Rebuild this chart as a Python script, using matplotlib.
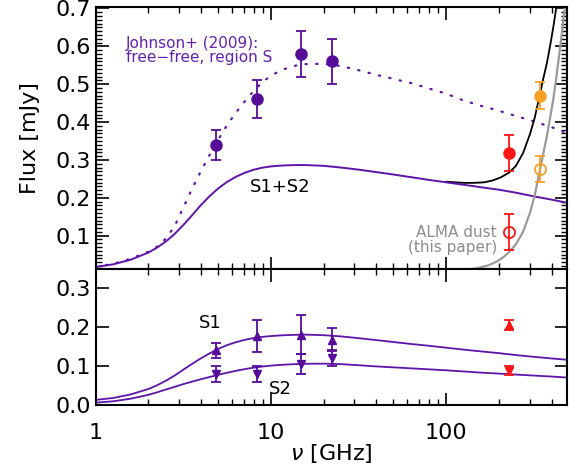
import numpy as np
import matplotlib.pyplot as plt
from matplotlib.ticker import MultipleLocator, FixedLocator, NullFormatter

# VLA points (Johnson+ 2009), region S
nu_vla = [4.85, 8.3, 14.8, 22.4]
flux_s = [0.34, 0.46, 0.58, 0.56]
err_s = [0.04, 0.05, 0.06, 0.06]
flux_s1 = [0.14, 0.177, 0.18, 0.168]
err_s1 = [0.02, 0.04, 0.05, 0.03]
flux_s2 = [0.08, 0.08, 0.105, 0.12]
err_s2 = [0.02, 0.02, 0.025, 0.02]

# ALMA points
nu_b6 = 228
nu_b7 = 342
tot_b6, tot_b6_err = 0.318, 0.048
tot_b7, tot_b7_err = 0.47, 0.035
dust_b6, dust_b6_err = 0.109, 0.047
dust_b7, dust_b7_err = 0.276, 0.034
s1_b6, s1_b6_err = 0.205, 0.013
s2_b6, s2_b6_err = 0.088, 0.011

# model curves
nu_mod = [1, 1.26, 1.58, 2.0, 2.24, 2.51, 2.82, 3.16, 3.55, 3.98, 4.47, 5.01,
          5.62, 6.31, 7.08, 7.94, 8.91, 10, 11.2, 12.6, 14.1, 15.8, 20, 25.1,
          31.6, 39.8, 50.1, 63.1, 79.4, 100, 126, 158, 200, 251, 316, 398, 490]
ff_johnson = [0.0175, 0.026, 0.039, 0.058, 0.071, 0.092, 0.125, 0.174, 0.224,
              0.270, 0.313, 0.354, 0.392, 0.425, 0.454, 0.481, 0.505, 0.522,
              0.535, 0.544, 0.550, 0.553, 0.554, 0.548, 0.537, 0.525, 0.514,
              0.503, 0.489, 0.475, 0.457, 0.443, 0.430, 0.416, 0.402, 0.387,
              0.371]
ff_s1s2 = [0.0175, 0.0245, 0.0365, 0.0555, 0.0685, 0.0845, 0.1045, 0.128,
           0.154, 0.1805, 0.2045, 0.225, 0.242, 0.2555, 0.266, 0.274, 0.2795,
           0.283, 0.2848, 0.286, 0.2865, 0.2865, 0.2845, 0.280, 0.2745, 0.268,
           0.2615, 0.2545, 0.2475, 0.241, 0.2345, 0.228, 0.2215, 0.2135,
           0.204, 0.1955, 0.187]
mod_s1 = [0.013, 0.018, 0.027, 0.041, 0.0505, 0.062, 0.0755, 0.0905, 0.1055,
          0.1195, 0.1325, 0.144, 0.1535, 0.161, 0.167, 0.1715, 0.1747, 0.1768,
          0.1783, 0.1794, 0.1801, 0.1805, 0.179, 0.176, 0.1715, 0.1665,
          0.1615, 0.1565, 0.152, 0.147, 0.142, 0.1375, 0.133, 0.128, 0.1235,
          0.1195, 0.116]
mod_s2 = [0.006, 0.0095, 0.016, 0.026, 0.0325, 0.0395, 0.0465, 0.0535, 0.060,
          0.066, 0.0718, 0.0774, 0.0827, 0.0876, 0.0919, 0.0956, 0.0986,
          0.1009, 0.1027, 0.104, 0.105, 0.1057, 0.106, 0.1048, 0.102, 0.099,
          0.0965, 0.094, 0.0915, 0.089, 0.086, 0.083, 0.0805, 0.078, 0.0755,
          0.073, 0.0704]

nu_dust = [130, 150, 175, 195, 212, 228, 250, 275, 301, 320, 342, 360, 375,
           392, 409, 425, 440, 458, 476, 490]
dust = [0.010, 0.014, 0.022, 0.032, 0.043, 0.056, 0.077, 0.110, 0.160, 0.205,
        0.27, 0.32, 0.36, 0.41, 0.46, 0.515, 0.57, 0.635, 0.70, 0.75]
nu_tot = [100, 126, 145, 165, 185, 205, 228, 250, 275, 301, 320, 342, 360,
          375, 392, 409, 425, 440]
tot = [0.2425, 0.2395, 0.2395, 0.241, 0.246, 0.254, 0.266, 0.284, 0.318,
       0.368, 0.41, 0.47, 0.518, 0.553, 0.60, 0.65, 0.70, 0.75]

purple = '#560c98'
line_purple = '#5e14a8'
red = '#ff1414'
orange = '#f5a024'
grey = '#9a9a9a'

plt.rcParams['font.family'] = 'DejaVu Sans'

fig = plt.figure(figsize=(5.71, 4.72), dpi=100)
ax1 = fig.add_axes([0.1676, 0.430, 0.8254, 0.5545])
ax2 = fig.add_axes([0.1676, 0.142, 0.8254, 0.289])

for ax in (ax1, ax2):
    ax.set_xscale('log')
    ax.set_xlim(1, 490)
    ax.tick_params(which='both', direction='in', top=True, right=True,
                   labelsize=16)
    ax.tick_params(which='major', length=9, width=1.2)
    ax.tick_params(which='minor', length=4.5, width=1.0)
    for sp in ax.spines.values():
        sp.set_linewidth(1.5)

# top panel
ax1.plot(nu_mod, ff_johnson, color=line_purple, lw=1.6,
         linestyle=(0, (0.6, 4.2)), dash_capstyle='round')
ax1.plot(nu_tot, tot, color='black', lw=1.3)
ax1.plot(nu_mod, ff_s1s2, color=line_purple, lw=1.4)
ax1.plot(nu_dust, dust, color=grey, lw=1.6)

ax1.errorbar(nu_vla, flux_s, yerr=err_s, fmt='o', color=purple, ms=8,
             elinewidth=1.3, capsize=3.5, capthick=1.3)
ax1.errorbar([nu_b6], [tot_b6], yerr=[tot_b6_err], fmt='o', color=red, ms=8,
             elinewidth=1.3, capsize=3.5, capthick=1.3)
ax1.errorbar([nu_b7], [tot_b7], yerr=[tot_b7_err], fmt='o', color=orange, ms=8,
             elinewidth=1.3, capsize=3.5, capthick=1.3)
ax1.errorbar([nu_b6], [dust_b6], yerr=[dust_b6_err], fmt='o', color=red, ms=8,
             mfc='none', mew=1.3, elinewidth=1.3, capsize=3.5, capthick=1.3)
ax1.errorbar([nu_b7], [dust_b7], yerr=[dust_b7_err], fmt='o', color=orange,
             ms=8, mfc='none', mew=1.3, elinewidth=1.3, capsize=3.5,
             capthick=1.3)

ax1.set_ylim(0.012, 0.703)
ax1.yaxis.set_major_locator(FixedLocator([0.1, 0.2, 0.3, 0.4, 0.5, 0.6, 0.7]))
ax1.yaxis.set_minor_locator(MultipleLocator(0.01))
ax1.xaxis.set_major_formatter(NullFormatter())
ax1.xaxis.set_minor_formatter(NullFormatter())
ax1.set_ylabel('Flux [mJy]', fontsize=16, labelpad=11)

ax1.text(0.064, 0.892, 'Johnson+ (2009):\nfree\u2212free, region S',
         transform=ax1.transAxes, color='#6420b0', fontsize=11,
         va='top', ha='left', linespacing=0.95)
ax1.text(0.391, 0.313, 'S1+S2', transform=ax1.transAxes, fontsize=13,
         va='center', ha='center')
ax1.text(0.851, 0.111, 'ALMA dust\n(this paper)', transform=ax1.transAxes,
         color='#8c8c8c', fontsize=11, va='center', ha='right',
         linespacing=0.95)

# bottom panel
ax2.plot(nu_mod, mod_s1, color=line_purple, lw=1.3)
ax2.plot(nu_mod, mod_s2, color=line_purple, lw=1.3)
ax2.errorbar(nu_vla, flux_s1, yerr=err_s1, fmt='^', color=purple, ms=6,
             elinewidth=1.3, capsize=3.5, capthick=1.3)
ax2.errorbar(nu_vla, flux_s2, yerr=err_s2, fmt='v', color=purple, ms=6,
             elinewidth=1.3, capsize=3.5, capthick=1.3)
ax2.errorbar([nu_b6], [s1_b6], yerr=[s1_b6_err], fmt='^', color=red, ms=6,
             elinewidth=1.3, capsize=3.5, capthick=1.3)
ax2.errorbar([nu_b6], [s2_b6], yerr=[s2_b6_err], fmt='v', color=red, ms=6,
             elinewidth=1.3, capsize=3.5, capthick=1.3)

ax2.set_ylim(0.0, 0.35)
ax2.yaxis.set_major_locator(FixedLocator([0.0, 0.1, 0.2, 0.3]))
ax2.yaxis.set_minor_locator(FixedLocator([]))
ax2.set_xticks([1, 10, 100])
ax2.set_xticklabels(['1', '10', '100'])
ax2.xaxis.set_minor_formatter(NullFormatter())
ax2.tick_params(axis='x', pad=13)
ax2.set_xlabel(r'$\nu$ [GHz]', fontsize=16, labelpad=-1)

ax2.text(0.2425, 0.60, 'S1', transform=ax2.transAxes, fontsize=13,
         va='center', ha='center')
ax2.text(0.391, 0.118, 'S2', transform=ax2.transAxes, fontsize=13,
         va='center', ha='center')

fig.savefig('out.png', dpi=100)
